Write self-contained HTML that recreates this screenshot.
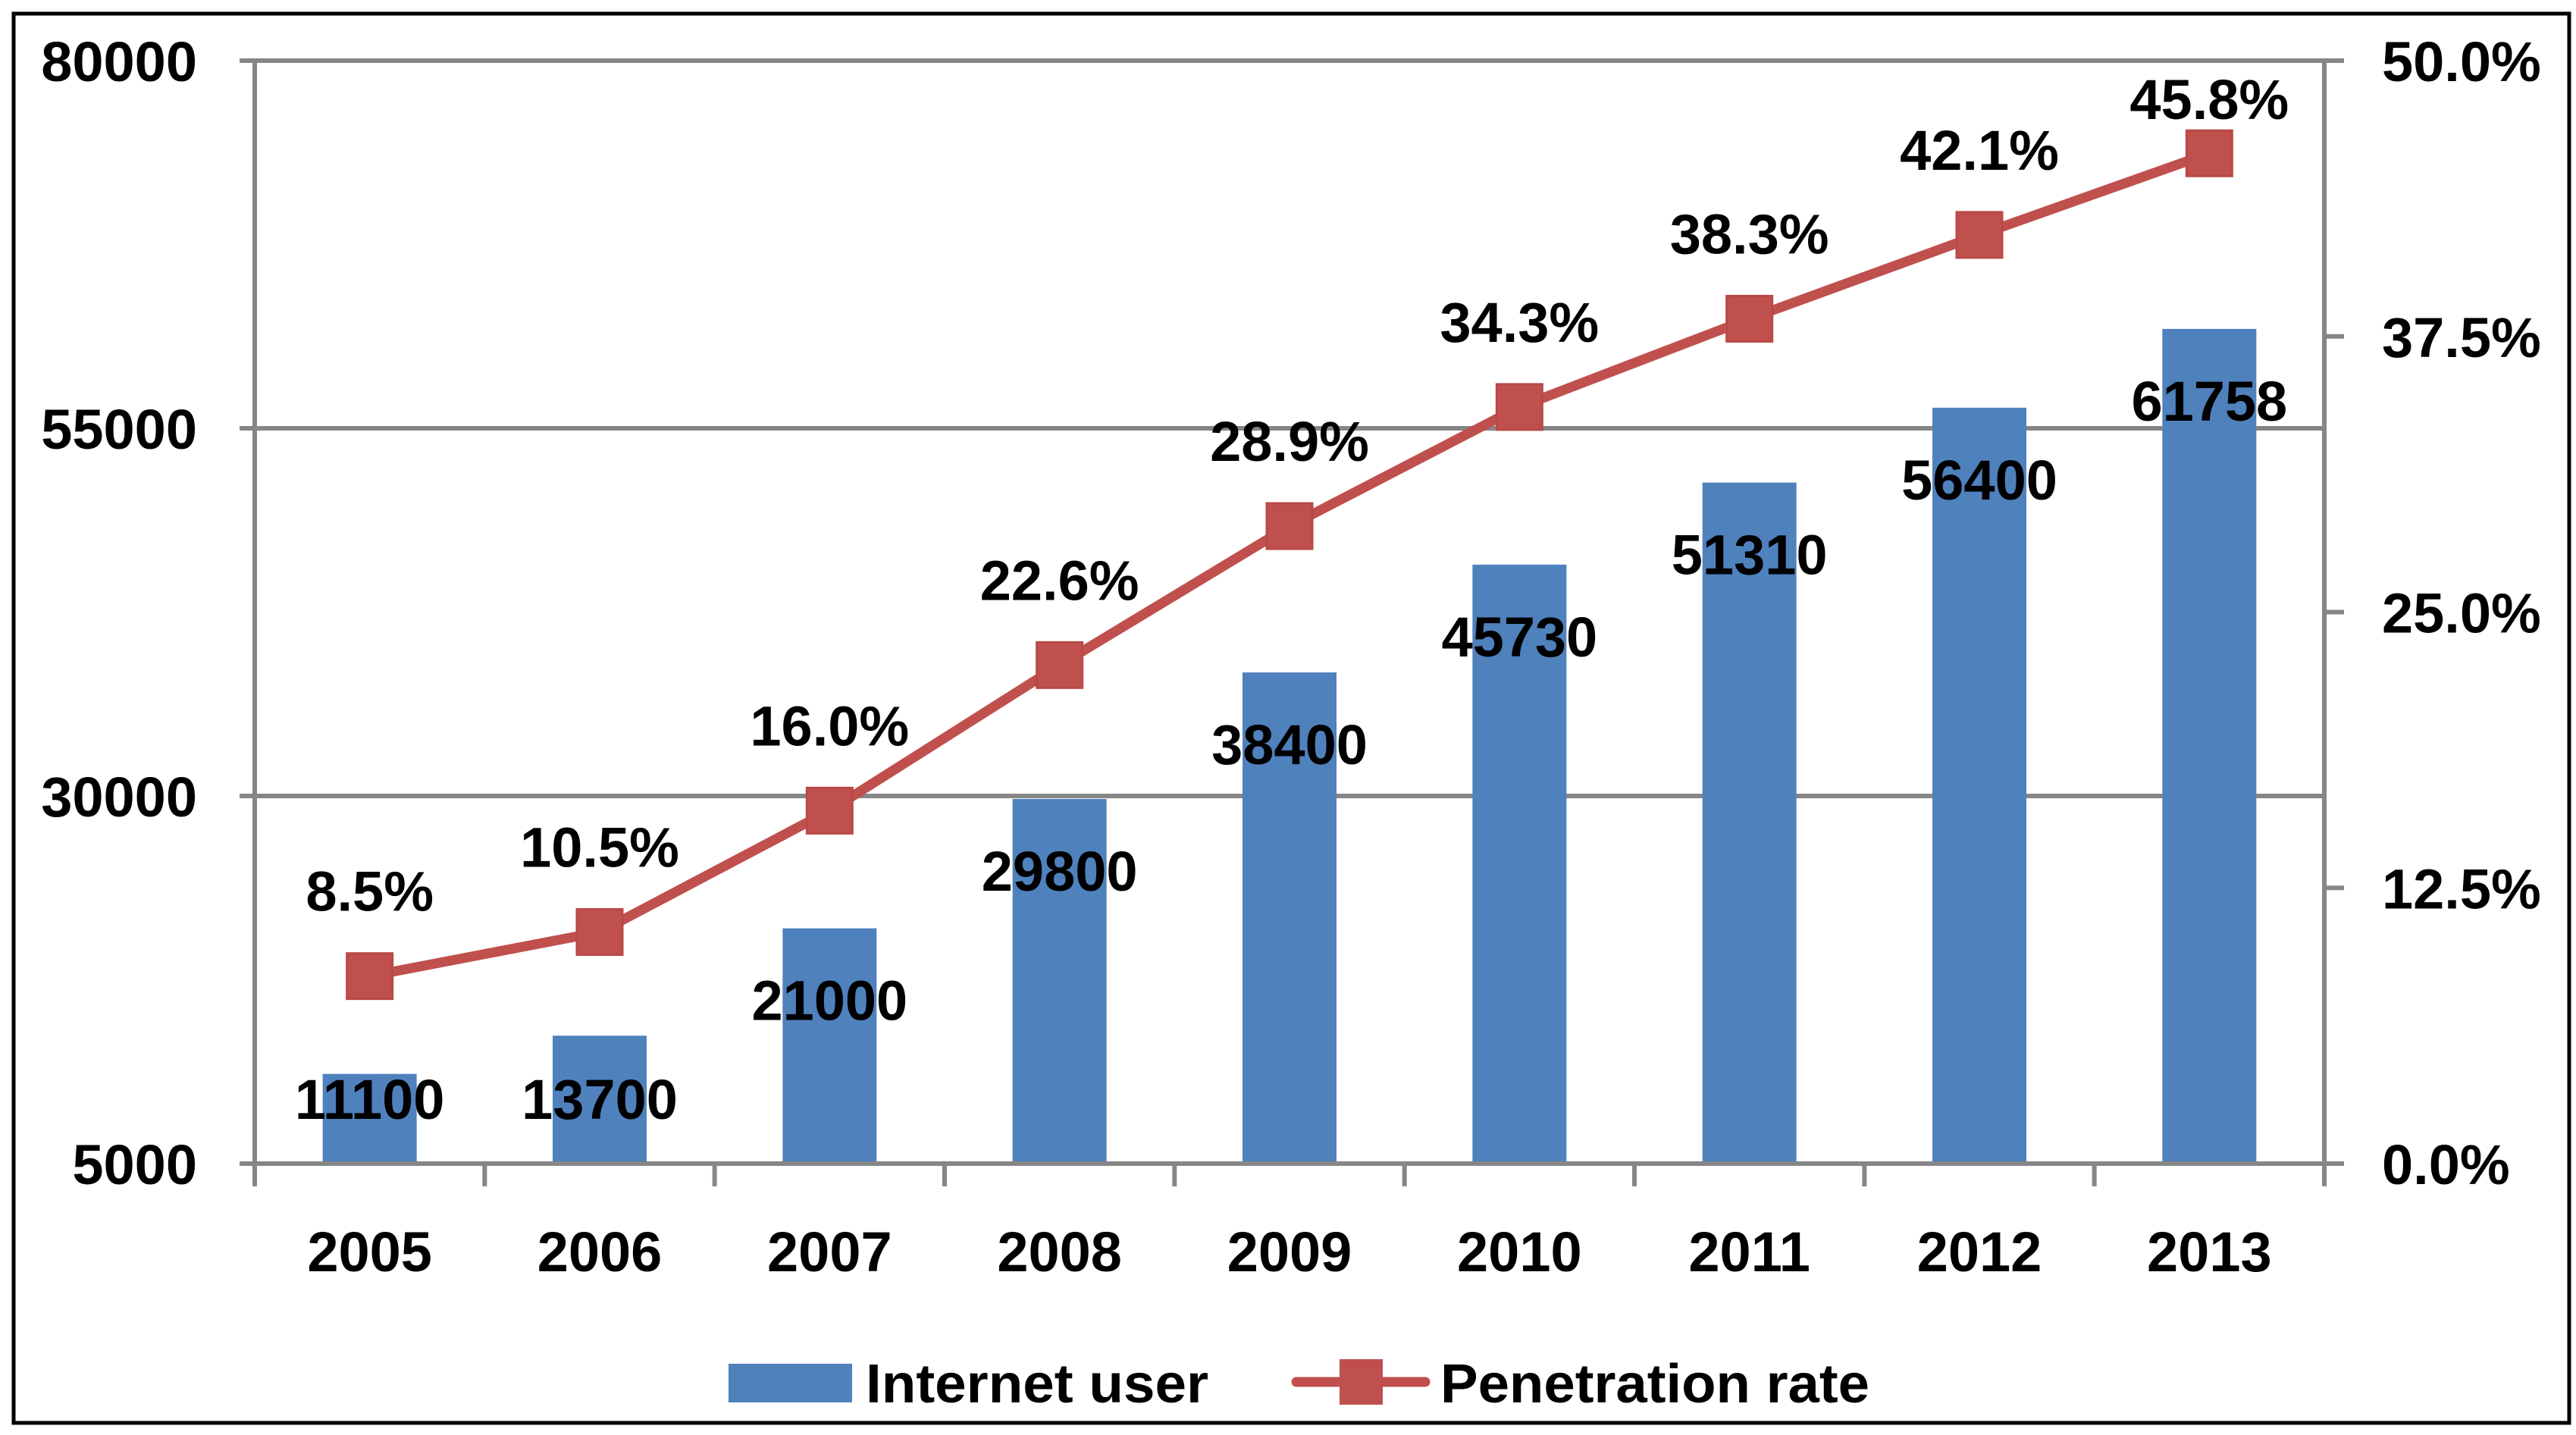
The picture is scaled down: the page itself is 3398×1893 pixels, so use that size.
<!DOCTYPE html>
<html><head><meta charset="utf-8"><style>
html,body{margin:0;padding:0;background:#fff;}
svg{display:block;font-family:"Liberation Sans",sans-serif;font-weight:bold;}
</style></head><body>
<svg id="chart" width="3398" height="1893" viewBox="0 0 3398 1893" xmlns="http://www.w3.org/2000/svg">
<rect x="18" y="18" width="3371" height="1859" fill="#fff" stroke="#000" stroke-width="5"/>
<g id="grid"></g><g id="bars"></g><g id="axes"></g><g id="line"></g><g id="labels"></g>
<g>
<rect x="961" y="1799" width="163" height="51" fill="#4F81BD"/>
<text x="1142" y="1850" font-size="72" textLength="452" lengthAdjust="spacingAndGlyphs">Internet user</text>
<line x1="1710" y1="1823" x2="1880" y2="1823" stroke="#C0504D" stroke-width="13" stroke-linecap="round"/>
<rect x="1767" y="1793" width="57" height="60" fill="#C0504D"/>
<text x="1900" y="1850" font-size="72" textLength="566" lengthAdjust="spacingAndGlyphs">Penetration rate</text>
</g>
</svg>
<script>
const categories=["2005","2006","2007","2008","2009","2010","2011","2012","2013"];
const users=[11100,13700,21000,29800,38400,45730,51310,56400,61758];
const rates=[8.5,10.5,16.0,22.6,28.9,34.3,38.3,42.1,45.8];
const leftTicks=[5000,30000,55000,80000];
const rightTicks=[0,12.5,25,37.5,50];

const NS="http://www.w3.org/2000/svg";
const FS=74,OFF=27;
const X0=336,X1=3066,Y0=1535,Y1=80;
const band=(X1-X0)/categories.length;
const xc=i=>X0+band*(i+0.5);
const yL=v=>Y0-(v-5000)/(80000-5000)*(Y0-Y1);
const yR=v=>Y0-v/50*(Y0-Y1);
function mk(tag,attrs,parent,txt){const e=document.createElementNS(NS,tag);for(const k in attrs)e.setAttribute(k,attrs[k]);if(txt!==undefined)e.textContent=txt;document.getElementById(parent).appendChild(e);return e;}

leftTicks.forEach(t=>{
  if(t!==5000){const g=mk('line',{x1:X0,x2:X1,y1:yL(t),y2:yL(t),stroke:'#868686','stroke-width':6},'grid');
  
  }
  const tx=mk('text',{x:260,y:yL(t)+OFF,'font-size':FS,'text-anchor':'end'},'labels',String(t));
  
  
});
rightTicks.forEach(t=>{
  const tk=mk('line',{x1:X1,x2:X1+26,y1:yR(t),y2:yR(t),stroke:'#868686','stroke-width':6},'axes');
  
  
  const tx=mk('text',{x:3142,y:yR(t)+OFF,'font-size':FS},'labels',t.toFixed(1)+'%');
  
  
});
users.forEach((v,i)=>{
  const bw=124,top=yL(v);
  const b=mk('rect',{x:xc(i)-bw/2,y:top,width:bw,height:Y0-top,fill:'#4F81BD'},'bars');
  
  
  const cy=Math.min(top+94,1449);
  const t=mk('text',{x:xc(i),y:cy+OFF,'font-size':FS,'text-anchor':'middle'},'labels',String(v));
  
  
  const c=mk('text',{x:xc(i),y:1677,'font-size':FS,'text-anchor':'middle'},'labels',categories[i]);
  
  
});
const ax=mk('line',{x1:X0,x2:X0,y1:Y1-3,y2:Y0+3,stroke:'#868686','stroke-width':6},'axes');


const ax2=mk('line',{x1:X1,x2:X1,y1:Y1-3,y2:Y0+3,stroke:'#868686','stroke-width':6},'axes');


const ax3=mk('line',{x1:X0-20,x2:X1,y1:Y0,y2:Y0,stroke:'#868686','stroke-width':6},'axes');


const axt=mk('line',{x1:X0-20,x2:X0,y1:Y1,y2:Y1,stroke:'#868686','stroke-width':6},'axes');


leftTicks.forEach(t=>{const k=mk('line',{x1:X0-20,x2:X0,y1:yL(t),y2:yL(t),stroke:'#868686','stroke-width':6},'axes');

});
for(let i=0;i<=categories.length;i++){const k=mk('line',{x1:X0+band*i,x2:X0+band*i,y1:Y0,y2:Y0+30,stroke:'#868686','stroke-width':6},'axes');

}
const pl=mk('polyline',{points:rates.map((r,i)=>xc(i)+','+yR(r)).join(' '),fill:'none',stroke:'#C0504D','stroke-width':13,'stroke-linejoin':'round'},'line');


rates.forEach((r,i)=>{
  const m=mk('rect',{x:xc(i)-30,y:yR(r)-30,width:60,height:60,fill:'#C0504D',stroke:'#B84946','stroke-width':3},'line');
  
  
  const cy=Math.max(yR(r)-113,130);
  const t=mk('text',{x:xc(i),y:cy+OFF,'font-size':FS,'text-anchor':'middle'},'labels',r.toFixed(1)+'%');
  
  
});
</script>
</body></html>
